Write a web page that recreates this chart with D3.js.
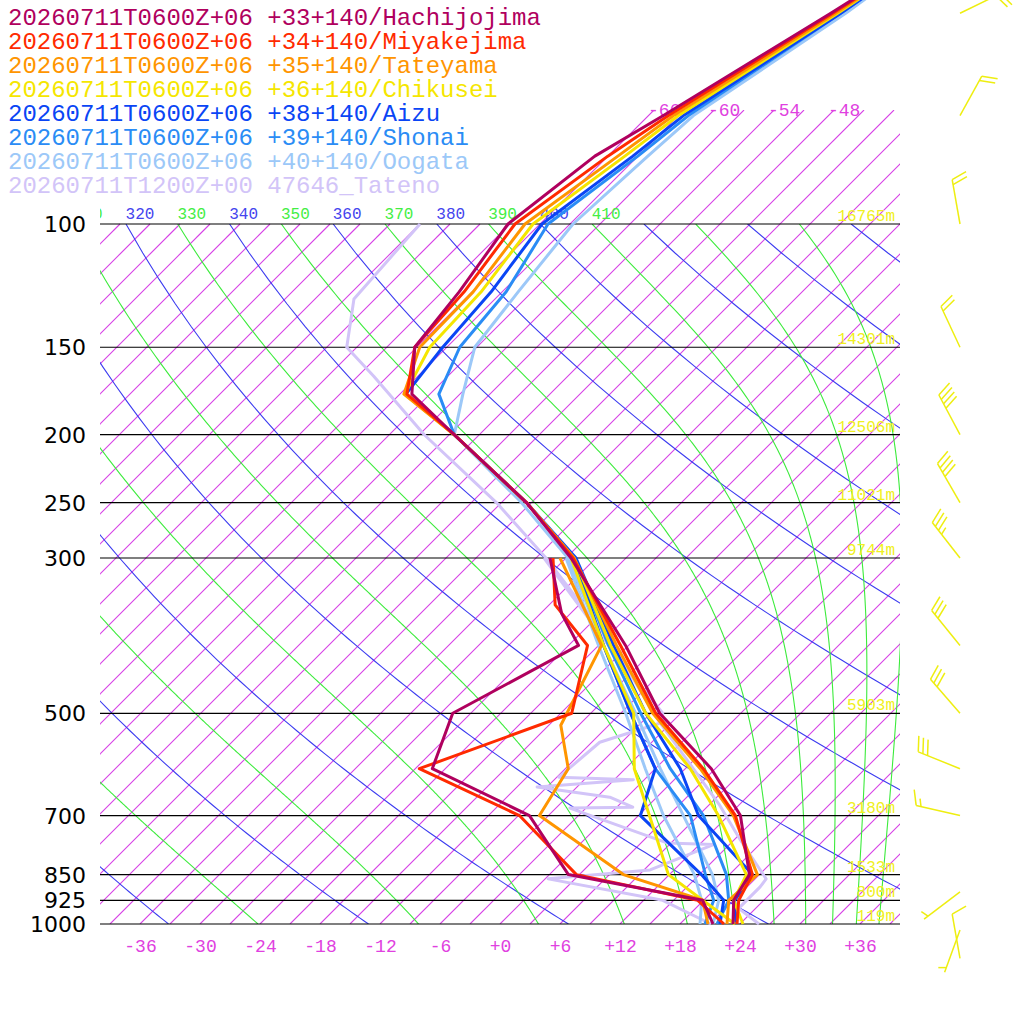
<!DOCTYPE html>
<html>
<head>
<meta charset="utf-8">
<script src="https://cdn.jsdelivr.net/npm/d3@7"></script>
<style>
  body { margin: 0; background: #fff; }
  text { font-family: "Liberation Mono", "DejaVu Sans Mono", monospace; }
</style>
</head>
<body>
<script>
// levels shared by the upper part of the model soundings
var levels = [1000, 925, 850, 700, 600, 500, 400, 300, 250, 200, 175, 150, 125, 100, 80, 70, 50, 40];

var stations = ["20260711T0600Z+06 +33+140/Hachijojima", "20260711T0600Z+06 +34+140/Miyakejima",
  "20260711T0600Z+06 +35+140/Tateyama", "20260711T0600Z+06 +36+140/Chikusei",
  "20260711T0600Z+06 +38+140/Aizu", "20260711T0600Z+06 +39+140/Shonai",
  "20260711T0600Z+06 +40+140/Oogata", "20260711T1200Z+00 47646_Tateno"];
var colors = ["#b0005e", "#ff2a00", "#ff9500", "#f5e600", "#0a45f5", "#2a8cf5", "#9cc8f8", "#d2c4f8"];

// temperatures (deg C) on `levels`
var tempHachi  = [23.3, 21.0, 20.0, 13.2, 5.6, -5.1, -15.3, -29.5, -39.5, -53.5, -61.8, -66.2, -67.3, -69.2, -67.3, -64.5, -58.0, -54.0];
var tempMiya   = [23.7, 21.5, 20.3, 12.7, 4.8, -5.5, -15.8, -29.3, -39.5, -53.5, -62.3, -66.2, -66.8, -68.5, -66.0, -64.0, -57.8, -54.0];
var tempTate   = [22.7, 20.5, 20.8, 12.5, 4.5, -5.8, -16.2, -29.2, -39.5, -53.5, -62.6, -65.7, -65.9, -67.5, -65.0, -63.5, -57.5, -54.0];
var tempChik   = [24.3, 21.0, 19.7, 11.0, 3.5, -6.5, -16.8, -29.2, -39.5, -53.5, -62.5, -64.7, -65.1, -66.7, -64.3, -63.0, -57.3, -54.0];
var tempAizu   = [23.6, 21.1, 20.3, 9.0, 2.5, -6.5, -16.5, -29.0, -39.5, -53.5, -62.4, -63.4, -64.1, -65.8, -63.5, -62.5, -57.0, -54.0];
var tempShonai = [21.7, 20.5, 17.7, 9.5, 1.5, -7.0, -17.0, -29.2, -39.5, -53.5, -59.1, -61.7, -62.6, -65.2, -63.0, -62.0, -57.0, -54.0];
var tempOogata = [21.3, 19.5, 16.3, 7.5, 0.5, -7.5, -17.5, -29.8, -40.0, -53.5, -56.7, -60.2, -61.4, -62.7, -62.0, -61.5, -56.5, -54.0];
// Tateno observed temperature
var tatenoTP = [1000, 950, 885, 862, 758, 674, 515, 400, 300, 250, 200, 165, 150, 128, 100];
var tatenoT  = [25.9, 22.3, 22.3, 22.1, 15.6, 9.9, -4.2, -16.6, -32.0, -42.5, -56.5, -67.4, -73.0, -77.1, -78.0];

// dewpoints
var dewHachiP = [1000, 925, 850, 700, 600, 500, 400, 360, 300];
var dewHachi  = [21.3, 17.9, 1.9, -7.9, -22.3, -25.8, -20.0, -24.9, -31.6];
var dewMiyaP  = [1000, 925, 850, 700, 600, 500, 400, 350, 300];
var dewMiya   = [22.4, 17.4, 2.7, -8.9, -23.6, -13.9, -19.1, -26.4, -31.3];
var dewTateP  = [1000, 925, 850, 700, 600, 520, 400, 300];
var dewTate   = [20.8, 17.9, 7.4, -6.9, -8.7, -13.8, -17.7, -30.6];
var dewChikP  = [1000, 925, 850, 700, 600, 500, 400, 300];
var dewChik   = [23.5, 17.9, 11.9, 4.1, -2.1, -7.7, -17.5, -29.5];
var dewAizuP  = [1000, 925, 850, 700, 600, 500, 400, 300];
var dewAizu   = [22.0, 20.0, 15.2, 3.2, 0.0, -8.0, -17.5, -29.2];
var dewShonaiP = [1000, 925, 850, 700, 600, 500, 400, 300];
var dewShonai  = [20.5, 19.0, 15.6, 8.2, 0.0, -8.0, -17.5, -29.4];
var dewOogataP = [1000, 925, 850, 700, 600, 500, 400, 300];
var dewOogata  = [20.0, 17.8, 14.5, 5.5, -1.0, -8.5, -18.0, -30.0];
var dewTatenoP = [1000, 925, 862, 837, 770, 766, 683, 681, 659, 637, 622, 617, 550, 515, 500, 400, 300];
var dewTateno  = [21.1, 13.9, 0.3, 9.6, 13.4, 8.6, -4.6, 1.6, -1.7, -10.0, -1.1, -8.8, -8.2, -3.9, -4.8, -17.0, -32.2];

var pressTicks = [100, 150, 200, 250, 300, 500, 700, 850, 925, 1000];
var heightLabels = ["16765m", "14301m", "12506m", "11021m", "9744m", "5903m", "3180m", "1533m", "800m", "119m"];
var tempTicks = [-36, -30, -24, -18, -12, -6, 0, 6, 12, 18, 24, 30, 36];
var topIsoLabels = [-66, -60, -54, -48];
var thetaLabels = [310, 320, 330, 340, 350, 360, 370, 380, 390, 400, 410];

// wind barbs: pressure, direction (deg), speed (kt)
var windP   = [50, 70, 100, 150, 200, 250, 300, 400, 500, 600, 700, 900, 1020, 1120];
var windDir = [64, 29, 350, 335, 332, 330, 322, 321, 319, 292, 283, 233, 200, 350];
var windSpd = [20, 20, 20, 20, 40, 40, 35, 30, 30, 30, 15, 5, 5, 10];

var W = 1024, H = 1024;
var pL = 100, pR = 900, pT = 224, pB = 924;
var svg = d3.select("body").append("svg").attr("width", W).attr("height", H);

var y = d3.scaleLog().domain([100, 1000]).range([pT, pB]);
var xt = d3.scaleLinear().domain([-40, 40]).range([pL, pR]);
var px = function(T, p) { return xt(T) + (pB - y(p)); };
var line = d3.line().x(function(d) { return px(d[1], d[0]); }).y(function(d) { return y(d[0]); });

var defs = svg.append("defs");
defs.append("clipPath").attr("id", "clipPlot").append("rect")
  .attr("x", pL).attr("y", pT).attr("width", pR - pL).attr("height", pB - pT);
defs.append("clipPath").attr("id", "clipIso").append("rect")
  .attr("x", pL).attr("y", 110).attr("width", pR - pL).attr("height", pB - 110);

// isotherms every 3 C
var isoG = svg.append("g").attr("clip-path", "url(#clipIso)");
for (var T = -120; T <= 45; T += 3) {
  var pTop = T >= -66 ? 100 * Math.pow(10, (110 - pT) / 700) : 100;
  isoG.append("path").attr("d", line([[1000, T], [pTop, T]]))
    .style("stroke", "rgb(214,64,230)").style("stroke-width", "1.1px").style("fill", "none");
}

// dry adiabats every 20 K
var bg = svg.append("g").attr("clip-path", "url(#clipPlot)");
var pGrid = d3.range(100, 1001, 10);
for (var th = 160; th <= 560; th += 20) {
  var pts = pGrid.map(function(p) { return [p, th * Math.pow(p / 1000, 0.2857) - 273.15]; });
  bg.append("path").attr("d", line(pts)).style("stroke", "rgb(60,60,240)").style("stroke-width", "1.1px").style("fill", "none");
}

// moist (pseudo) adiabats, started at 100 hPa
function es(tc) { return 6.112 * Math.exp(17.67 * tc / (tc + 243.5)); }
function moist(th) {
  var Tk = th * Math.pow(0.1, 0.2857), p = 100, out = [[p, Tk - 273.15]];
  var Rd = 287.04, cp = 1005.7, Lv = 2.5e6, eps = 0.622;
  while (p < 1000) {
    var dp = 2;
    var e = es(Tk - 273.15), rs = eps * e / (p - e);
    var dTdp = (Rd * Tk + Lv * rs) / (p * (cp + Lv * Lv * rs * eps / (Rd * Tk * Tk)));
    Tk += dTdp * dp; p += dp;
    out.push([p, Tk - 273.15]);
  }
  return out;
}
for (var tm = 250; tm <= 450; tm += 20) {
  bg.append("path").attr("d", line(moist(tm))).style("stroke", "rgb(60,235,60)").style("stroke-width", "1.1px").style("fill", "none");
}

// pressure lines and labels
pressTicks.forEach(function(p, i) {
  svg.append("line").attr("x1", pL).attr("x2", pR).attr("y1", y(p)).attr("y2", y(p))
    .attr("stroke", "#000").attr("stroke-width", 1.2);
  svg.append("text").attr("x", 86).attr("y", y(p) + 8).attr("text-anchor", "end")
    .style("font-family", "DejaVu Sans").style("font-size", "22px").attr("fill", "#000").text(p);
  svg.append("text").attr("x", 895).attr("y", y(p) - 3).attr("text-anchor", "end")
    .style("font-size", "16px").attr("fill", "#f0f020").text(heightLabels[i]);
});

// bottom temperature axis
var ax = svg.append("g").attr("transform", "translate(0," + (pB + 12) + ")")
  .call(d3.axisBottom(xt).tickValues(tempTicks).tickSize(0)
    .tickFormat(function(d) { return d >= 0 ? "+" + d : "" + d; }));
ax.select(".domain").remove();
ax.selectAll("text").style("font-family", "Liberation Mono").style("font-size", "18px").attr("fill", "#e040e0");

topIsoLabels.forEach(function(T) {
  var yy = 110;
  svg.append("text").attr("x", xt(T) + (pB - yy) - 6).attr("y", yy + 6)
    .style("font-size", "18px").attr("fill", "#e040e0").text(T);
});
defs.append("clipPath").attr("id", "clipTheta").append("rect")
  .attr("x", pL).attr("y", 190).attr("width", pR - pL).attr("height", 34);
var thG = svg.append("g").attr("clip-path", "url(#clipTheta)");
thetaLabels.forEach(function(th) {
  var xx = px(th * Math.pow(0.1, 0.2857) - 273.15, 100) + 14;
  thG.append("text").attr("x", xx).attr("y", pT - 5).attr("text-anchor", "middle")
    .style("font-size", "16px").attr("fill", (th / 10) % 2 === 0 ? "#4444ee" : "#44ee44").text(th);
});

// soundings
var tempModel = [tempHachi, tempMiya, tempTate, tempChik, tempAizu, tempShonai, tempOogata];
var dewP = [dewHachiP, dewMiyaP, dewTateP, dewChikP, dewAizuP, dewShonaiP, dewOogataP, dewTatenoP];
var dewT = [dewHachi, dewMiya, dewTate, dewChik, dewAizu, dewShonai, dewOogata, dewTateno];
var snd = svg.append("g").attr("fill", "none").attr("stroke-width", 3).attr("stroke-linejoin", "round");
function draw(ps, ts, c) {
  snd.append("path").attr("d", line(ps.map(function(p, i) { return [p, ts[i]]; }))).attr("stroke", c);
}
draw(tatenoTP, tatenoT, colors[7]);
draw(dewTatenoP, dewTateno, colors[7]);
for (var s = 6; s >= 0; s--) {
  draw(dewP[s], dewT[s], colors[s]);
  draw(levels, tempModel[s], colors[s]);
}

// legend
stations.forEach(function(name, i) {
  svg.append("text").attr("x", 8).attr("y", 25 + i * 24).style("font-size", "24px")
    .attr("fill", colors[i]).text(name);
});

// wind barbs
var wb = svg.append("g").attr("stroke", "#eeee10").attr("stroke-width", 1.5).attr("fill", "none");
windP.forEach(function(p, i) {
  var a = windDir[i] * Math.PI / 180, bx = 960, by = y(p);
  var ux = Math.sin(a), uy = -Math.cos(a), L = 45;
  var tx = bx + ux * L, ty = by + uy * L;
  wb.append("line").attr("x1", bx).attr("y1", by).attr("x2", tx).attr("y2", ty);
  var r = 70 * Math.PI / 180;
  var vx = ux * Math.cos(r) - uy * Math.sin(r), vy = ux * Math.sin(r) + uy * Math.cos(r);
  var spd = windSpd[i], k = 0;
  while (spd >= 10) {
    var sx = tx - ux * 5 * k, sy = ty - uy * 5 * k;
    wb.append("line").attr("x1", sx).attr("y1", sy).attr("x2", sx + vx * 16).attr("y2", sy + vy * 16);
    spd -= 10; k++;
  }
  if (spd >= 5) {
    var hx = tx - ux * 5 * (k === 0 ? 1 : k), hy = ty - uy * 5 * (k === 0 ? 1 : k);
    wb.append("line").attr("x1", hx).attr("y1", hy).attr("x2", hx + vx * 8).attr("y2", hy + vy * 8);
  }
});
</script>
</body>
</html>
